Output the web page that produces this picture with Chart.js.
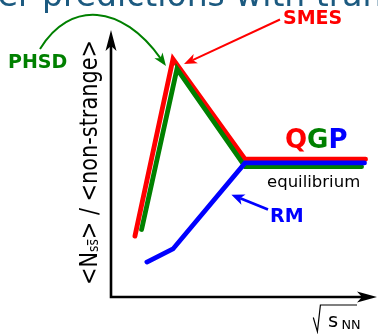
<!DOCTYPE html>
<html>
<head>
<meta charset="utf-8">
<script src="https://cdn.jsdelivr.net/npm/chart.js@4/dist/chart.umd.min.js"></script>
<style>
  html, body { margin: 0; padding: 0; background: #fff; overflow: hidden; }
  canvas { display: block; }
</style>
</head>
<body>
<canvas id="c" width="378" height="334"></canvas>
<script>
// Schematic strangeness ratio <N_ss̄>/<non-strange> versus sqrt(s_NN), arbitrary units
const smesX = [0.90, 2.33, 5.04, 9.57];
const smesY = [2.28, 8.91, 5.16, 5.16];
const phsdX = [1.15, 2.48, 5.04, 9.42];
const phsdY = [2.53, 8.54, 4.88, 4.88];
const rmX   = [1.35, 2.33, 5.04, 9.53];
const rmY   = [1.31, 1.80, 5.02, 5.02];
const seriesNames = ['SMES', 'PHSD', 'RM'];
const axisMin = 0;
const axisMax = 10;

const RED = '#ff0000', GREEN = '#008000', BLUE = '#0000ff';
const FONT = '"DejaVu Sans", "Liberation Sans", sans-serif';

function series(label, xs, ys, color, order) {
  return {
    label,
    data: xs.map((x, i) => ({ x, y: ys[i] })),
    borderColor: color,
    borderWidth: 4.8,
    borderJoinStyle: 'miter',
    borderCapStyle: 'round',
    pointRadius: 0,
    fill: false,
    tension: 0,
    order
  };
}

// filled "stealth" arrow head pointing along (dx, dy)
function arrowHead(ctx, tx, ty, dx, dy, len, half, notch, color) {
  const m = Math.hypot(dx, dy), ux = dx / m, uy = dy / m, nx = -uy, ny = ux;
  ctx.beginPath();
  ctx.moveTo(tx, ty);
  ctx.lineTo(tx - ux * len + nx * half, ty - uy * len + ny * half);
  ctx.lineTo(tx - ux * (len - notch), ty - uy * (len - notch));
  ctx.lineTo(tx - ux * len - nx * half, ty - uy * len - ny * half);
  ctx.closePath();
  ctx.fillStyle = color;
  ctx.fill();
}

function straightArrow(ctx, x0, y0, tx, ty, color, width, len, half, notch) {
  const dx = tx - x0, dy = ty - y0, m = Math.hypot(dx, dy);
  const ex = tx - dx / m * (len - notch), ey = ty - dy / m * (len - notch);
  ctx.beginPath();
  ctx.moveTo(x0, y0);
  ctx.lineTo(ex, ey);
  ctx.strokeStyle = color;
  ctx.lineWidth = width;
  ctx.lineCap = 'butt';
  ctx.stroke();
  arrowHead(ctx, tx, ty, dx, dy, len, half, notch, color);
}

const overlay = {
  id: 'overlay',
  afterDraw(chart) {
    const { ctx } = chart;
    const xs = chart.scales.x, ys = chart.scales.y;
    const px = v => xs.getPixelForValue(v);
    const py = v => ys.getPixelForValue(v);
    ctx.save();

    // page heading (runs past the top edge)
    ctx.font = '33px ' + FONT;
    ctx.fillStyle = '#1c5a80';
    ctx.textAlign = 'left';
    ctx.textBaseline = 'alphabetic';
    const lead = 'Other ';
    ctx.fillText(lead + 'predictions with transport approaches', 42 - ctx.measureText(lead).width, 6);

    // axes with arrow heads
    const ox = px(axisMin), oy = py(axisMin);
    const yTop = py(axisMax), xEnd = px(axisMax);
    ctx.strokeStyle = '#000';
    ctx.lineWidth = 2.6;
    ctx.lineCap = 'butt';
    ctx.beginPath();
    ctx.moveTo(ox, yTop + 12);
    ctx.lineTo(ox, oy);
    ctx.lineTo(xEnd - 12, oy);
    ctx.stroke();
    arrowHead(ctx, ox, yTop, 0, -1, 21, 5.5, 5, '#000');
    arrowHead(ctx, xEnd, oy, 1, 0, 20, 5.5, 5, '#000');

    // x-axis title: sqrt(s_NN)
    ctx.beginPath();
    ctx.lineWidth = 1.2;
    ctx.lineJoin = 'miter';
    ctx.moveTo(313.3, 317.5);
    ctx.lineTo(317.4, 331.6);
    ctx.lineTo(320.4, 305);
    ctx.lineTo(357, 305);
    ctx.stroke();
    ctx.fillStyle = '#000';
    ctx.font = '19.5px ' + FONT;
    ctx.fillText('s', 328, 326.7);
    ctx.font = '12.8px ' + FONT;
    ctx.fillText('NN', 341.5, 329.3);

    // y-axis title, rotated
    ctx.save();
    ctx.translate(97, 285);
    ctx.rotate(-Math.PI / 2);
    const big = '24px ' + FONT, small = '14px ' + FONT;
    const p1 = '<N', p3 = '> / <non-strange>';
    ctx.font = big;
    const w1 = ctx.measureText(p1).width, w3 = ctx.measureText(p3).width;
    ctx.font = small;
    const ws = ctx.measureText('s').width;
    const total = w1 + 2 * ws + w3;
    const k = 245 / total;
    ctx.scale(k, 1);
    ctx.fillStyle = '#000';
    ctx.font = big;
    ctx.fillText(p1, 0, 0);
    ctx.font = small;
    ctx.fillText('ss', w1, 1);
    ctx.fillRect(w1 + ws + 0.5, -10, ws - 1, 1.2);
    ctx.font = big;
    ctx.fillText(p3, w1 + 2 * ws, 0);
    ctx.restore();

    // SMES label and arrow to the peak
    const smesPk = { x: px(smesX[1]), y: py(smesY[1]) };
    ctx.font = 'bold 19px ' + FONT;
    ctx.fillStyle = RED;
    ctx.textAlign = 'left';
    ctx.fillText(seriesNames[0], 283, 24);
    straightArrow(ctx, 280, 19.5, smesPk.x + 11, smesPk.y + 5, RED, 2, 13, 5, 3.5);

    // PHSD label and curved arrow to the peak
    const phsdPk = { x: px(phsdX[1]), y: py(phsdY[1]) };
    ctx.fillStyle = GREEN;
    ctx.fillText(seriesNames[1], 8, 68);
    const tx = phsdPk.x - 11, ty = phsdPk.y - 3;
    const c2x = 122, c2y = 4;
    const dx = tx - c2x, dy = ty - c2y, m = Math.hypot(dx, dy);
    ctx.beginPath();
    ctx.moveTo(40, 49);
    ctx.bezierCurveTo(70, 0, c2x, c2y, tx - dx / m * 9, ty - dy / m * 9);
    ctx.strokeStyle = GREEN;
    ctx.lineWidth = 2;
    ctx.stroke();
    arrowHead(ctx, tx, ty, dx, dy, 13, 5, 3.5, GREEN);

    // RM label and arrow to the rising part of the curve
    const f = 0.63;
    const rx = px(rmX[1] + (rmX[2] - rmX[1]) * f) + 13;
    const ry = py(rmY[1] + (rmY[2] - rmY[1]) * f);
    ctx.fillStyle = BLUE;
    ctx.fillText(seriesNames[2], 270, 222);
    straightArrow(ctx, 268, 209.5, rx, ry, BLUE, 2.6, 13, 5.5, 3.5);

    // QGP and equilibrium labels
    ctx.font = 'bold 26px ' + FONT;
    let qx = 285;
    [['Q', RED], ['G', GREEN], ['P', BLUE]].forEach(([ch, col]) => {
      ctx.fillStyle = col;
      ctx.fillText(ch, qx, 147.5);
      qx += ctx.measureText(ch).width;
    });
    ctx.font = '16.5px ' + FONT;
    ctx.fillStyle = '#000';
    ctx.fillText('equilibrium', 267, 187);

    ctx.restore();
  }
};

new Chart(document.getElementById('c'), {
  type: 'line',
  data: {
    datasets: [
      series(seriesNames[2], rmX, rmY, BLUE, 1),
      series(seriesNames[1], phsdX, phsdY, GREEN, 2),
      series(seriesNames[0], smesX, smesY, RED, 3)
    ]
  },
  options: {
    responsive: false,
    animation: false,
    devicePixelRatio: 1,
    layout: { padding: { left: 111, right: 1, top: 30, bottom: 37 } },
    scales: {
      x: { type: 'linear', min: axisMin, max: axisMax, display: false },
      y: { type: 'linear', min: axisMin, max: axisMax, display: false }
    },
    plugins: { legend: { display: false }, tooltip: { enabled: false } },
    elements: { point: { radius: 0 } }
  },
  plugins: [overlay]
});
</script>
</body>
</html>
